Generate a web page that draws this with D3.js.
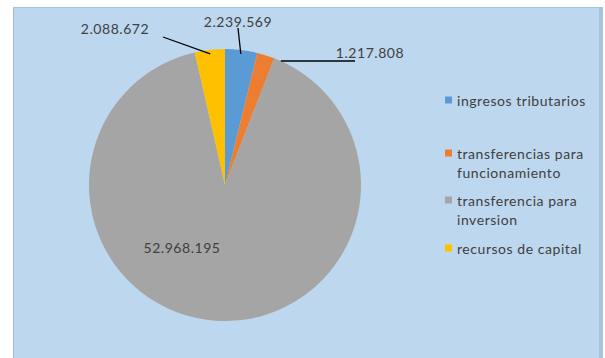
<!DOCTYPE html>
<html>
<head>
<meta charset="utf-8">
<script src="https://cdn.jsdelivr.net/npm/d3@7"></script>
<style>
  html, body { margin: 0; padding: 0; background: #ffffff; }
  svg { display: block; }
  text { font-family: Lato, "Open Sans", sans-serif; fill: #404040; }
</style>
</head>
<body>
<svg id="chart" width="605" height="358"></svg>
<script>
// Ingresos por fuente
const categories = [
  "ingresos tributarios",
  "transferencias para funcionamiento",
  "transferencia para inversion",
  "recursos de capital"
];
const values = [2239569, 1217808, 52968195, 2088672];
const valueLabels = ["2.239.569", "1.217.808", "52.968.195", "2.088.672"];
const legendLines = [
  ["ingresos tributarios"],
  ["transferencias para", "funcionamiento"],
  ["transferencia para", "inversion"],
  ["recursos de capital"]
];
const colors = ["#5B9BD5", "#ED7D31", "#A5A5A5", "#FFC000"];

const W = 605, H = 358;
const svg = d3.select("#chart");

// chart area background
svg.append("rect")
  .attr("x", 13).attr("y", 7)
  .attr("width", 590).attr("height", H - 7)
  .attr("fill", "#BDD7EE");
svg.append("line")
  .attr("x1", 13.5).attr("x2", 13.5).attr("y1", 7).attr("y2", H)
  .attr("stroke", "#9DB9D6").attr("stroke-width", 1);
svg.append("line")
  .attr("x1", 13).attr("x2", 603).attr("y1", 7.5).attr("y2", 7.5)
  .attr("stroke", "#A9C3DD").attr("stroke-width", 1);
svg.append("rect")
  .attr("x", 599).attr("y", 7).attr("width", 4).attr("height", H - 7)
  .attr("fill", "#A9C2DB");

const cx = 225, cy = 185, r = 136;

const color = d3.scaleOrdinal().domain(categories).range(colors);
const pie = d3.pie().sort(null).value(d => d.value);
const arc = d3.arc().innerRadius(0).outerRadius(r);

const data = categories.map((c, i) => ({ name: c, value: values[i], label: valueLabels[i] }));
const arcs = pie(data);

const g = svg.append("g").attr("transform", `translate(${cx},${cy})`);
g.selectAll("path.slice")
  .data(arcs)
  .join("path")
  .attr("class", "slice")
  .attr("d", arc)
  .attr("fill", d => color(d.data.name));

// data labels: position of each label relative to the pie centre
const labelPos = {
  "ingresos tributarios": { x: 13, y: -164, lead: "straight" },
  "transferencias para funcionamiento": { x: 145, y: -133, lead: "flat" },
  "transferencia para inversion": { x: -43, y: 62, lead: null },
  "recursos de capital": { x: -110, y: -157, lead: "right" }
};

const pointAt = (angle, rad) => [Math.sin(angle) * rad, -Math.cos(angle) * rad];
const leader = (x1, y1, x2, y2) => g.append("line")
  .attr("x1", x1).attr("y1", y1).attr("x2", x2).attr("y2", y2)
  .attr("stroke", "#000").attr("stroke-width", 1.3);

arcs.forEach(d => {
  const p = labelPos[d.data.name];
  const mid = (d.startAngle + d.endAngle) / 2;
  const [sx, sy] = pointAt(mid, r - 4);
  if (p.lead === "flat") {
    const ey = p.y + 9;
    const [ax] = pointAt(Math.acos(-ey / r), r);
    leader(ax, ey, p.x - 15, ey);
  } else if (p.lead === "straight") {
    leader(sx, sy, p.x, p.y + 7);
  } else if (p.lead === "right") {
    leader(sx, sy, p.x + 48, p.y + 9);
  }
  g.append("text")
    .attr("x", p.x).attr("y", p.y)
    .attr("text-anchor", "middle")
    .attr("dominant-baseline", "central")
    .attr("font-size", 14)
    .attr("letter-spacing", 0.55)
    .text(d.data.label);
});

// legend
const legendY = [100, 153, 200, 248];
const legend = svg.append("g");
categories.forEach((c, i) => {
  const item = legend.append("g").attr("transform", `translate(445,${legendY[i]})`);
  item.append("rect")
    .attr("x", 0).attr("y", -3.5).attr("width", 7).attr("height", 7)
    .attr("fill", color(c));
  legendLines[i].forEach((line, j) => {
    item.append("text")
      .attr("x", 12).attr("y", j * 19)
      .attr("dominant-baseline", "central")
      .attr("font-size", 14)
      .attr("letter-spacing", 0.55)
      .text(line);
  });
});
</script>
</body>
</html>
